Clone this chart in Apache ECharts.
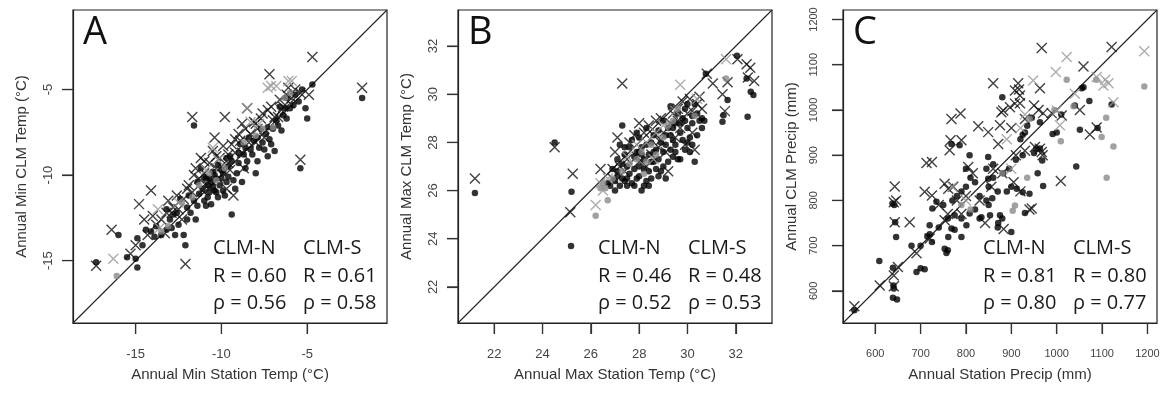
<!DOCTYPE html>
<html><head><meta charset="utf-8">
<script src="https://cdn.jsdelivr.net/npm/echarts@6/dist/echarts.min.js"></script>
<style>html,body{margin:0;padding:0;background:#fff}#c{width:1173px;height:393px}</style>
</head><body><div id="c"></div>
<script>
// ---------- Panel A: annual minimum temperature ----------
const rangeA = [-18.65, -0.35];
const ticksA = [-15, -10, -5];
const blackDotsA = [
[-17.3,-15.1],[-16.0,-13.5],[-15.5,-14.8],[-15.0,-14.9],[-14.9,-15.4],[-14.9,-13.7],[-14.6,-14.1],[-14.4,-13.2],[-14.1,-13.3],[-13.8,-13.0],
[-13.5,-13.5],[-13.2,-13.2],[-12.9,-13.1],[-12.7,-13.5],[-12.5,-12.9],[-12.2,-13.5],[-12.1,-14.1],[-12.4,-11.4],[-12.0,-11.9],[-11.8,-12.2],
[-11.6,-11.5],[-11.6,-7.1],[-11.3,-11.1],[-11.1,-10.8],[-11.0,-11.5],[-10.9,-10.2],[-10.8,-10.6],[-10.7,-11.0],[-10.6,-10.4],[-10.5,-9.8],
[-10.4,-10.9],[-10.3,-10.2],[-10.2,-11.3],[-10.1,-10.6],[-10.0,-9.7],[-9.9,-10.9],[-9.8,-11.2],[-9.7,-10.4],[-9.6,-9.5],[-9.4,-12.3],
[-9.2,-10.8],[-9.1,-9.9],[-9.0,-9.3],[-8.8,-10.4],[-8.7,-8.8],[-8.5,-9.2],[-8.3,-8.5],[-8.1,-8.0],[-7.9,-9.2],[-7.8,-8.4],
[-7.6,-8.1],[-7.4,-7.6],[-7.3,-8.9],[-7.2,-7.9],[-7.0,-7.3],[-6.9,-8.6],[-6.7,-7.1],[-6.5,-7.4],[-6.4,-6.5],[-6.2,-6.7],
[-6.0,-6.1],[-5.8,-5.9],[-5.5,-5.7],[-5.1,-6.1],[-5.0,-6.7],[-4.7,-4.7],[-5.4,-9.6],[-1.8,-5.5],[-11.4,-10.4],[-10.9,-11.8],
[-11.2,-9.6],[-9.5,-8.9],[-8.9,-8.2],[-12.8,-12.3],[-13.2,-12.0],[-10.6,-11.7],[-10.2,-9.4],[-9.7,-9.0],[-8.4,-7.8],[-7.7,-7.3],
[-6.6,-6.0],[-6.2,-5.5],[-11.5,-12.6],[-10.8,-11.3],[-10.4,-10.0],[-9.3,-10.3],[-8.6,-9.6],[-7.5,-8.5],
[-13.9,-13.6],[-13.0,-12.6],[-12.6,-12.2],[-12.0,-12.6],[-11.9,-11.2],[-11.4,-11.8],[-11.0,-10.1],[-10.7,-10.2],[-10.5,-10.7],[-10.3,-11.0],
[-10.0,-10.2],[-9.9,-9.9],[-9.6,-10.1],[-9.4,-9.2],[-9.0,-8.7],[-8.6,-8.4],[-8.2,-8.8],[-7.9,-7.8],[-7.3,-7.2],[-6.8,-6.8],
[-6.3,-6.1],[-5.7,-5.3],[-5.3,-5.0],[-8.0,-9.9],[-7.1,-8.2]
];
const blackCrossA = [
[-17.3,-15.3],[-16.4,-13.2],[-15.0,-14.1],[-14.8,-11.7],[-14.5,-12.6],[-14.1,-10.9],[-14.0,-12.4],[-13.8,-12.9],[-13.5,-12.6],[-13.1,-11.5],
[-12.9,-12.2],[-12.6,-11.2],[-12.5,-12.0],[-12.2,-11.4],[-12.1,-15.2],[-11.9,-10.6],[-11.7,-6.6],[-11.7,-11.0],[-11.5,-9.6],[-11.3,-10.2],
[-11.2,-9.0],[-11.0,-9.9],[-10.9,-10.5],[-10.7,-9.3],[-10.5,-8.6],[-10.4,-7.8],[-10.3,-9.6],[-10.1,-9.0],[-9.9,-8.3],[-9.8,-6.6],
[-9.7,-10.8],[-9.6,-9.3],[-9.4,-8.2],[-9.3,-11.2],[-9.2,-8.7],[-9.0,-7.6],[-8.9,-8.0],[-8.7,-9.6],[-8.6,-7.3],[-8.5,-6.1],
[-8.3,-7.6],[-8.1,-6.9],[-7.9,-7.3],[-7.7,-6.7],[-7.5,-7.8],[-7.3,-6.2],[-7.2,-4.1],[-7.1,-6.0],[-6.9,-6.6],[-6.6,-5.6],
[-6.4,-6.0],[-6.1,-4.9],[-5.9,-5.5],[-5.4,-5.2],[-5.4,-9.1],[-4.9,-5.3],[-4.7,-3.1],[-1.8,-4.9],[-10.6,-10.3],[-11.1,-10.9],
[-12.3,-12.6],[-13.3,-13.4],[-10.2,-10.2],[-9.5,-9.7],[-8.8,-8.7],[-8.0,-8.1],[-6.7,-6.6],[-6.0,-5.8],
[-11.6,-10.0],[-11.0,-9.2],[-10.7,-10.8],[-10.3,-8.9],[-10.0,-9.5],[-9.6,-8.8],[-9.2,-7.9],[-8.8,-7.0],[-8.4,-8.1],[-8.0,-7.0],
[-7.6,-6.4],[-7.0,-6.8],[-6.5,-6.2],[-6.2,-5.3],[-5.7,-5.0],[-12.0,-10.8],[-12.8,-11.9],[-13.2,-12.2],[-14.3,-13.5],[-15.3,-14.6]
];
const grayDotsA = [
[-16.1,-15.9],[-13.5,-13.3],[-13.1,-13.0],[-12.3,-11.6],[-11.7,-11.3],[-11.3,-10.6],[-10.7,-9.9],[-10.3,-10.3],[-9.8,-9.6],[-8.0,-7.7],
[-7.6,-7.3],[-7.0,-7.2],[-6.3,-5.5],[-6.0,-5.2],[-8.7,-8.1]
];
const grayCrossA = [
[-16.3,-14.9],[-13.7,-12.0],[-13.6,-13.1],[-12.5,-11.6],[-10.9,-9.7],[-10.5,-8.4],[-10.2,-9.1],[-8.5,-6.1],[-8.3,-6.9],[-7.3,-4.9],
[-7.1,-4.8],[-6.8,-4.8],[-6.1,-4.5],[-5.9,-4.5],[-7.8,-7.0]
];
const statsA = [['CLM-N','CLM-S'],['R = 0.60','R = 0.61'],['\u03c1 = 0.56','\u03c1 = 0.58']];

// ---------- Panel B: annual maximum temperature ----------
const rangeB = [20.5, 33.5];
const ticksB = [22, 24, 26, 28, 30, 32];
const blackDotsB = [
[21.2,25.9],[24.5,28.0],[25.2,25.95],[25.18,23.7],[32.05,31.6],[30.76,30.85],[32.45,30.66],[32.62,30.1],[32.73,29.97],[32.49,29.07],
[31.66,29.76],[31.49,29.13],[31.45,28.86],
[27.0,26.0],[27.0,26.4],[27.1,26.8],[27.1,27.3],[27.2,26.2],[27.2,27.9],[27.3,28.7],[27.3,26.5],[27.4,27.5],[27.4,26.4],[27.5,27.0],
[27.6,26.7],[27.6,27.8],[27.7,26.3],[27.7,28.1],[27.8,27.4],[27.8,26.9],[27.9,26.5],[27.9,27.6],[28.0,28.2],[28.0,27.0],
[28.0,26.6],[28.1,26.0],[28.1,27.8],[28.2,26.9],[28.2,27.3],[28.3,26.4],[28.3,28.6],[28.4,27.5],[28.4,26.8],[28.5,28.0],
[28.5,26.5],[28.6,27.2],[28.6,28.3],[28.7,26.9],[28.7,27.7],[28.8,28.5],[28.8,27.3],[28.9,28.0],[28.9,26.8],[29.0,27.6],
[29.0,28.9],[29.1,28.3],[29.1,27.9],[29.2,27.2],[29.2,28.6],[29.3,29.5],[29.3,27.7],[29.4,28.1],[29.4,27.4],[29.5,28.8],
[29.5,27.9],[29.6,29.2],[29.6,27.3],[29.7,28.4],[29.7,27.3],[29.8,29.0],[29.8,28.1],[29.9,27.7],[29.9,29.4],[30.0,28.6],
[30.0,29.6],[30.1,28.2],[30.1,27.6],[30.2,29.1],[30.2,28.8],[30.3,27.2],[30.3,29.6],[30.4,28.3],[30.5,28.9],[30.6,28.6],
[30.7,28.9],[26.8,26.2],[26.9,26.9],[26.7,26.3],[28.1,27.5],[28.6,27.6],[29.4,28.6],[29.9,28.9],[27.5,26.2],[28.2,26.2],
[27.1,26.6],[27.3,27.1],[27.5,26.5],[27.8,26.2],[28.0,27.6],[28.3,27.9],[28.5,27.2],[28.8,26.6],[29.0,27.0],[29.3,28.3],
[29.5,27.6],[29.7,28.8],[30.0,28.0],[30.2,27.9],[30.4,29.2],[30.6,29.0],[29.1,26.5],[28.4,26.2],[27.9,28.4],[27.4,27.8]
];
const blackCrossB = [
[21.2,26.5],[24.5,27.8],[25.25,26.7],[25.15,25.1],[26.4,26.9],[26.9,26.9],[27.1,28.2],[27.3,30.45],[27.5,27.3],[27.6,28.0],
[27.8,28.3],[27.9,27.4],[28.0,28.8],[28.2,28.4],[28.3,27.0],[28.4,28.7],[28.5,27.5],[28.6,28.3],[28.7,28.9],[28.8,27.8],
[28.9,29.0],[29.0,28.4],[29.1,27.6],[29.2,26.8],[29.3,28.8],[29.4,29.2],[29.5,28.2],[29.6,29.4],[29.7,28.6],[29.8,29.7],
[29.9,27.9],[30.0,29.2],[30.1,29.8],[30.2,28.4],[30.3,27.7],[30.4,29.6],[30.5,29.9],[30.6,29.4],[30.8,30.85],[31.05,30.45],
[31.45,30.0],[31.55,29.3],[31.66,30.5],[32.07,31.45],[32.45,31.25],[32.6,31.1],[32.5,30.7],[32.76,30.55],[27.2,27.0],[28.0,27.2],
[27.0,27.6],[28.9,28.1],[29.6,28.9],[30.2,29.3],[27.4,26.8],[26.9,26.5]
];
const grayDotsB = [
[26.2,24.95],[26.7,25.6],[26.4,26.1],[26.5,26.3],[26.6,26.1],[26.9,26.5],[27.3,26.8],[27.6,27.1],[27.9,27.3],[28.1,27.6],
[28.3,27.2],[28.5,27.9],[28.7,27.5],[29.0,28.2],[29.2,28.7],[29.4,28.9],[29.6,29.4],[30.3,29.1],[31.6,30.65],[28.2,26.7]
];
const grayCrossB = [
[26.2,25.4],[26.4,26.3],[26.7,26.5],[27.5,27.4],[27.9,27.9],[28.3,28.0],[28.7,28.4],[29.0,28.7],[29.5,29.3],[29.7,30.4],
[30.4,29.8],[31.6,31.45],[28.6,27.3],[26.5,26.0]
];
const statsB = [['CLM-N','CLM-S'],['R = 0.46','R = 0.48'],['\u03c1 = 0.52','\u03c1 = 0.53']];

// ---------- Panel C: annual precipitation ----------
const rangeC = [529, 1221];
const ticksC = [600, 700, 800, 900, 1000, 1100, 1200];
const blackDotsC = [
[554,557],[639,585],[648,581],[641,605],[640,612],[609,666],[639,651],[691,642],[709,648],[646,719],
[644,752],[638,793],[642,790],[726,782],[735,797],[720,725],[725,708],[753,693],[757,684],[761,719],
[775,735],[768,738],[790,719],[801,745],[775,767],[808,771],[768,925],[786,922],[808,900],[849,896],
[845,870],[849,848],[834,763],[853,767],[871,750],[875,767],[880,1028],[963,973],[945,983],[991,947],
[1051,956],[1059,1050],[1072,1020],[1121,1012],[1043,875],[930,772],[882,860],[900,830],[912,826],[925,818],
[940,815],[958,860],[970,832],[968,888],[963,915],[950,905],[930,950],[920,935],[925,900],[910,890],
[895,870],[860,850],[870,820],[858,805],[845,800],[830,810],[820,840],[800,830],[790,820],[780,810],
[770,800],[750,790],[760,760],[740,740],[715,720],[720,745],[700,700],[680,700],[700,650],[760,690],
[790,760],[820,780],[830,760],[870,740],[880,760],[900,730],[850,790],[810,850],[800,870],[850,830],
[860,880],[890,820],[1010,990],[1040,1010],[1055,1048],[1090,960],[935,965],[925,945],[955,915],[1000,950]
];
const blackCrossC = [
[554,566],[610,612],[641,610],[641,634],[650,653],[691,683],[643,752],[676,752],[641,796],[646,800],
[643,831],[713,883],[725,885],[709,819],[725,811],[720,716],[753,756],[753,837],[761,826],[772,830],
[768,980],[788,992],[766,933],[764,911],[790,933],[827,964],[849,951],[860,1059],[878,995],[875,966],
[871,925],[805,874],[815,860],[842,750],[856,830],[967,1137],[1121,1139],[1059,1096],[963,1048],[915,1059],
[908,1043],[917,1045],[919,1032],[882,999],[897,1006],[908,1014],[919,1015],[970,993],[989,993],[1011,988],
[1073,946],[1088,961],[952,918],[963,914],[967,907],[969,900],[1009,843],[945,782],[883,737],[1051,1000],
[780,800],[800,810],[830,800],[860,870],[880,860],[905,840],[920,820],[940,780],[900,960],[930,980],
[950,1010],[960,1000],[930,910],[910,900],[790,770],[760,770],[740,790]
];
const grayDotsC = [
[1022,1067],[1087,1067],[1193,1052],[1037,1008],[1109,983],[1099,940],[1125,919],[1009,931],[1110,850],[908,789],
[903,777],[790,790],[810,780],[935,850],[940,980],[995,1000],[880,860]
];
const grayCrossC = [
[1193,1130],[1022,1117],[998,1084],[948,1065],[1088,1073],[1107,1067],[1103,1054],[1114,1059],[1040,1036],[1125,1017],
[1000,999],[1007,966],[770,830],[800,800],[890,935],[920,960],[900,870],[930,990]
];
const statsC = [['CLM-N','CLM-S'],['R = 0.81','R = 0.80'],['\u03c1 = 0.80','\u03c1 = 0.77']];

const panelLetters = ['A', 'B', 'C'];
const xTitles = ['Annual Min Station Temp (\u00b0C)', 'Annual Max Station Temp (\u00b0C)', 'Annual Station Precip (mm)'];
const yTitles = ['Annual Min CLM Temp (\u00b0C)', 'Annual Max CLM Temp (\u00b0C)', 'Annual CLM Precip (mm)'];

// ---------- build ----------
const panels = [
  {range: rangeA, ticks: ticksA, bd: blackDotsA, bx: blackCrossA, gd: grayDotsA, gx: grayCrossA, stats: statsA, tickFont: 13, yMargin: 18},
  {range: rangeB, ticks: ticksB, bd: blackDotsB, bx: blackCrossB, gd: grayDotsB, gx: grayCrossB, stats: statsB, tickFont: 13, yMargin: 18},
  {range: rangeC, ticks: ticksC, bd: blackDotsC, bx: blackCrossC, gd: grayDotsC, gx: grayCrossC, stats: statsC, tickFont: 11, yMargin: 24}
];
const gridLefts = [73, 458, 843];
const GRID_TOP = 10, GRID_W = 314, GRID_H = 313;
const TICK_LEN = 11;
const CROSS = 'path://M0,0L10,10M10,0L0,10';
const BLACK = '#000', GRAY = '#999', GRAY_DOT = '#8a8a8a';
const AXIS_COLOR = '#333';
const labelFont = 'Liberation Sans, Arial, sans-serif';
const statFont = 'Open Sans, Noto Sans, sans-serif';

const grid = [], xAxis = [], yAxis = [], series = [], graphic = [];
panels.forEach((p, i) => {
  grid.push({left: gridLefts[i], top: GRID_TOP, width: GRID_W, height: GRID_H, show: true,
             borderColor: '#222', borderWidth: 1.2, backgroundColor: 'transparent'});
  const common = (title, isY) => ({
    type: 'value', gridIndex: i, min: p.range[0], max: p.range[1],
    name: title, nameLocation: 'middle', nameGap: 44,
    nameTextStyle: {fontSize: 15, color: '#333', fontFamily: labelFont},
    axisLine: {show: true, onZero: false, lineStyle: {color: '#222', width: 1.2}},
    axisTick: {show: true, inside: false, length: TICK_LEN, customValues: p.ticks, lineStyle: {color: AXIS_COLOR, width: 1.2}},
    axisLabel: {show: true, customValues: p.ticks, fontSize: p.tickFont, color: '#444', fontFamily: labelFont,
                margin: isY ? p.yMargin : 25, rotate: isY ? 90 : 0, formatter: v => String(v)},
    splitLine: {show: false}
  });
  xAxis.push(common(xTitles[i], false));
  yAxis.push(common(yTitles[i], true));
  series.push({type: 'line', xAxisIndex: i, yAxisIndex: i, data: [[p.range[0], p.range[0]], [p.range[1], p.range[1]]],
               symbol: 'none', lineStyle: {color: '#222', width: 1.1}, silent: true, z: 1});
  series.push({type: 'scatter', xAxisIndex: i, yAxisIndex: i, data: p.bd, symbol: 'circle', symbolSize: 6.5,
               itemStyle: {color: BLACK}, z: 2});
  series.push({type: 'scatter', xAxisIndex: i, yAxisIndex: i, data: p.bx, symbol: CROSS, symbolSize: 10,
               itemStyle: {color: 'rgba(0,0,0,0)', borderColor: '#111', borderWidth: 1.4}, z: 3});
  series.push({type: 'scatter', xAxisIndex: i, yAxisIndex: i, data: p.gd, symbol: 'circle', symbolSize: 6.5,
               itemStyle: {color: GRAY_DOT}, z: 4});
  series.push({type: 'scatter', xAxisIndex: i, yAxisIndex: i, data: p.gx, symbol: CROSS, symbolSize: 10,
               itemStyle: {color: 'rgba(0,0,0,0)', borderColor: GRAY, borderWidth: 1.4}, z: 5});
  graphic.push({type: 'text', left: gridLefts[i] + 10, top: 14, z: 10,
                style: {text: panelLetters[i], font: '38px ' + statFont, fill: '#111'}});
  const rowsY = [248, 276, 303];
  p.stats.forEach((row, r) => {
    row.forEach((txt, c) => {
      graphic.push({type: 'text', x: gridLefts[i] + (c === 0 ? 140 : 230), y: rowsY[r], z: 10,
                    style: {text: txt, font: '20px ' + statFont, fill: '#1a1a1a', textVerticalAlign: 'middle', textAlign: 'left'}});
    });
  });
  // tick marks drawn as filled bars; positions follow the same linear mapping as the panel's axes
  const span = p.range[1] - p.range[0];
  p.ticks.forEach(t => {
    const px = gridLefts[i] + (t - p.range[0]) / span * GRID_W;
    const py = GRID_TOP + GRID_H - (t - p.range[0]) / span * GRID_H;
    graphic.push({type: 'rect', z: 20, shape: {x: px - 0.6, y: GRID_TOP + GRID_H, width: 1.2, height: TICK_LEN},
                  style: {fill: AXIS_COLOR}});
    graphic.push({type: 'rect', z: 20, shape: {x: gridLefts[i] - TICK_LEN, y: py - 0.6, width: TICK_LEN, height: 1.2},
                  style: {fill: AXIS_COLOR}});
  });
});

const chart = echarts.init(document.getElementById('c'), null, {renderer: 'canvas'});
chart.setOption({animation: false, backgroundColor: '#fff', grid, xAxis, yAxis, series, graphic});
</script></body></html>
